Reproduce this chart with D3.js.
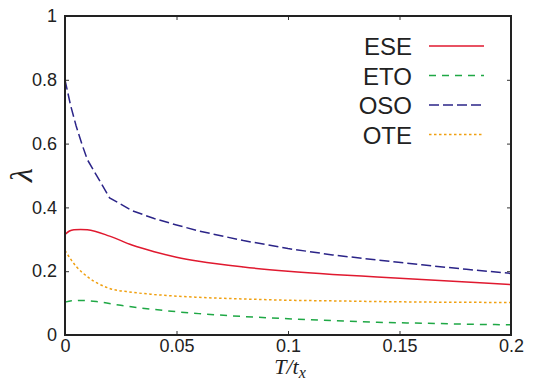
<!DOCTYPE html>
<html><head><meta charset="utf-8">
<script src="https://cdn.jsdelivr.net/npm/d3@7"></script>
<style>body{margin:0;background:#fff;} svg{display:block;}</style>
</head><body>
<script>
const seriesNames = ["ESE", "ETO", "OSO", "OTE"];
const eseT = [0, 0.002, 0.004, 0.007, 0.01, 0.02, 0.03, 0.04, 0.05, 0.06, 0.08, 0.1, 0.12, 0.14, 0.16, 0.18, 0.2];
const eseV = [0.315, 0.326, 0.330, 0.331, 0.330, 0.310, 0.282, 0.261, 0.244, 0.231, 0.213, 0.200, 0.190, 0.182, 0.174, 0.166, 0.158];
const etoT = [0, 0.003, 0.008, 0.015, 0.025, 0.04, 0.06, 0.08, 0.1, 0.12, 0.14, 0.16, 0.18, 0.2];
const etoV = [0.103, 0.107, 0.108, 0.104, 0.093, 0.080, 0.067, 0.058, 0.051, 0.045, 0.040, 0.037, 0.034, 0.032];
const osoT = [0, 0.0025, 0.005, 0.0075, 0.01, 0.015, 0.02, 0.03, 0.04, 0.05, 0.06, 0.08, 0.1, 0.12, 0.14, 0.16, 0.18, 0.2];
const osoV = [0.80, 0.72, 0.655, 0.60, 0.55, 0.49, 0.43, 0.39, 0.365, 0.345, 0.326, 0.296, 0.271, 0.251, 0.235, 0.220, 0.206, 0.193];
const oteT = [0, 0.005, 0.01, 0.02, 0.03, 0.04, 0.06, 0.08, 0.1, 0.12, 0.15, 0.2];
const oteV = [0.265, 0.215, 0.183, 0.146, 0.134, 0.127, 0.118, 0.113, 0.109, 0.107, 0.104, 0.102];
const xTicks = [0, 0.05, 0.1, 0.15, 0.2];
const xTickLabels = ["0", "0.05", "0.1", "0.15", "0.2"];
const yTicks = [0, 0.2, 0.4, 0.6, 0.8, 1];
const yTickLabels = ["0", "0.2", "0.4", "0.6", "0.8", "1"];

const W = 537, H = 381;
const L = 65, R = 511, T = 16, B = 335;
const x = d3.scaleLinear().domain([0, 0.2]).range([L, R]);
const y = d3.scaleLinear().domain([0, 1]).range([B, T]);

const svg = d3.select("body").append("svg").attr("width", W).attr("height", H);

const styles = [
  {name: seriesNames[0], t: eseT, v: eseV, color: "#e0192f", dash: null, curve: d3.curveMonotoneX},
  {name: seriesNames[1], t: etoT, v: etoV, color: "#1fa845", dash: "7,6", curve: d3.curveMonotoneX},
  {name: seriesNames[2], t: osoT, v: osoV, color: "#2b2488", dash: "10,4", curve: d3.curveLinear},
  {name: seriesNames[3], t: oteT, v: oteV, color: "#f0a010", dash: "2.5,2.5", curve: d3.curveMonotoneX}
];

styles.forEach(s => {
  const line = d3.line().x(d => x(d[0])).y(d => y(d[1])).curve(s.curve);
  svg.append("path")
    .datum(s.t.map((t, i) => [t, s.v[i]]))
    .attr("d", line)
    .attr("fill", "none")
    .attr("stroke", s.color)
    .attr("stroke-width", 1.5)
    .attr("stroke-dasharray", s.dash);
});

const tickFmt = (labels, ticks) => (d => labels[ticks.indexOf(d)]);
const fontTick = "Liberation Sans, Arial, sans-serif";
const xb = svg.append("g").attr("transform", `translate(0,${B})`)
  .call(d3.axisBottom(x).tickValues(xTicks).tickFormat(tickFmt(xTickLabels, xTicks)).tickSizeInner(-4).tickSizeOuter(0).tickPadding(4));
const xt = svg.append("g").attr("transform", `translate(0,${T})`)
  .call(d3.axisTop(x).tickValues(xTicks).tickFormat("").tickSizeInner(-4).tickSizeOuter(0));
const yl = svg.append("g").attr("transform", `translate(${L},0)`)
  .call(d3.axisLeft(y).tickValues(yTicks).tickFormat(tickFmt(yTickLabels, yTicks)).tickSizeInner(-4).tickSizeOuter(0).tickPadding(8));
const yr = svg.append("g").attr("transform", `translate(${R},0)`)
  .call(d3.axisRight(y).tickValues(yTicks).tickFormat("").tickSizeInner(-4).tickSizeOuter(0));
[xb, xt, yl, yr].forEach(g => {
  g.select(".domain").remove();
  g.selectAll("line").attr("stroke", "#333").attr("stroke-width", 1);
  g.selectAll("text").attr("font-family", fontTick).attr("font-size", 18).attr("fill", "#222");
});
xb.selectAll("text").attr("dy", "0.71em");

svg.append("rect").attr("x", L).attr("y", T).attr("width", R - L).attr("height", B - T)
  .attr("fill", "none").attr("stroke", "#222").attr("stroke-width", 2);

const xl = svg.append("text").attr("x", 290).attr("y", 374).attr("text-anchor", "middle")
  .attr("font-family", "Liberation Serif, Times New Roman, serif").attr("font-style", "italic").attr("font-size", 22).attr("fill", "#222");
xl.append("tspan").text("T/t");
xl.append("tspan").attr("font-size", 16).attr("dy", 4).text("x");

svg.append("text").attr("transform", "translate(32,175) rotate(-90)").attr("text-anchor", "middle")
  .attr("font-family", "Liberation Serif, Times New Roman, serif").attr("font-style", "italic").attr("font-size", 32).attr("fill", "#222")
  .text("λ");

const lg = svg.append("g");
styles.forEach((s, i) => {
  const ly = 46 + i * 29.5;
  lg.append("text").attr("x", 412).attr("y", ly + 9).attr("text-anchor", "end")
    .attr("font-family", fontTick).attr("font-size", 24).attr("fill", "#222").text(s.name);
  lg.append("line").attr("x1", 429).attr("x2", 484).attr("y1", ly).attr("y2", ly)
    .attr("stroke", s.color).attr("stroke-width", 1.5).attr("stroke-dasharray", s.dash);
});
</script>
</body></html>
